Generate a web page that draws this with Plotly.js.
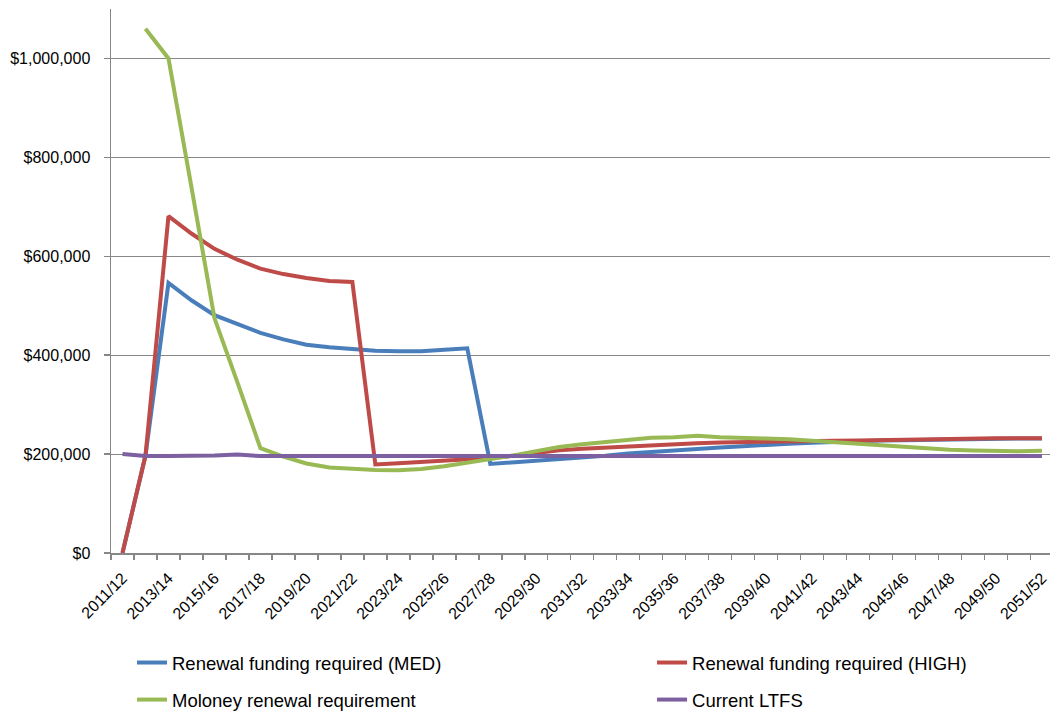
<!DOCTYPE html>
<html>
<head>
<meta charset="utf-8">
<script src="https://cdn.plot.ly/plotly-3.0.1.min.js"></script>
<style>
  html, body { margin: 0; padding: 0; background: #ffffff; }
  #chart { width: 1050px; height: 713px; }
</style>
</head>
<body>
<div id="chart"></div>
<script>
// Financial years on the horizontal axis
const years = [
  "2011/12", "2012/13", "2013/14", "2014/15", "2015/16", "2016/17", "2017/18",
  "2018/19", "2019/20", "2020/21", "2021/22", "2022/23", "2023/24", "2024/25",
  "2025/26", "2026/27", "2027/28", "2028/29", "2029/30", "2030/31", "2031/32",
  "2032/33", "2033/34", "2034/35", "2035/36", "2036/37", "2037/38", "2038/39",
  "2039/40", "2040/41", "2041/42", "2042/43", "2043/44", "2044/45", "2045/46",
  "2046/47", "2047/48", "2048/49", "2049/50", "2050/51", "2051/52"
];

// Renewal funding required (MED)
const renewalMed = [
  0, 197000, 546000, 511000, 481000, 463000, 445000, 432000, 421000, 416000,
  412000, 409000, 408000, 408000, 411000, 414000, 180000, 183000, 186000, 188500,
  192500, 196500, 201000, 204500, 207500, 210500, 213500, 216000, 219000, 221000,
  223000, 225000, 226000, 227500, 228000, 229000, 229500, 230500, 231000, 231500,
  231500
];

// Renewal funding required (HIGH)
const renewalHigh = [
  0, 197000, 681000, 646000, 615000, 593000, 575000, 564000, 556000, 550000,
  548000, 179000, 181500, 184000, 186500, 189000, 192000, 196500, 202500, 207500,
  211000, 213500, 216000, 217500, 219500, 222000, 223500, 224500, 225000, 225500,
  226000, 227000, 227500, 228500, 229000, 229500, 230500, 231500, 232000, 232000,
  232000
];

// Moloney renewal requirement (no figure for the first year)
const moloney = [
  null, 1060000, 1000000, 740000, 475000, 345000, 212000, 195000, 181000, 173000,
  170000, 168000, 167500, 170000, 175500, 182000, 190000, 197000, 206000, 214500,
  220000, 225000, 230000, 233000, 234000, 237000, 234000, 233500, 231500, 230000,
  227000, 223000, 219500, 217000, 214000, 211500, 209000, 207500, 206500, 205500,
  207000
];

// Current LTFS
const currentLtfs = [
  200000, 196000, 196000, 196000, 197000, 199000, 196000, 196000, 196000, 196000,
  196000, 196000, 196000, 196000, 196000, 196000, 196000, 196000, 196000, 196000,
  196000, 196000, 196000, 196000, 196000, 196000, 196000, 196000, 196000, 196000,
  196000, 196000, 196000, 196000, 196000, 196000, 196000, 196000, 196000, 196000,
  196000
];

const seriesNames = [
  "Renewal funding required (MED)",
  "Renewal funding required (HIGH)",
  "Moloney renewal requirement",
  "Current LTFS"
];
const seriesColors = ["#4a7ebb", "#be4b48", "#98b954", "#7d60a0"];
const seriesValues = [renewalMed, renewalHigh, moloney, currentLtfs];
const seriesLegend = ["legend", "legend2", "legend", "legend2"];

// Position of each year along the axis
const yearIndex = years.map((_, i) => i);

const traces = seriesValues.map((vals, k) => ({
  type: "scatter",
  mode: "lines",
  name: seriesNames[k],
  x: yearIndex,
  y: vals,
  line: { color: seriesColors[k], width: 4 },
  legend: seriesLegend[k],
  legendgroup: "g" + k,
  connectgaps: false,
  hoverinfo: "skip"
}));

// Label every second year
const labelIdx = yearIndex.filter(i => i % 2 === 0);
const labelText = labelIdx.map(i => years[i]);

const axisGrey = "#878787";
const baseFont = { family: "Liberation Sans, Arial, sans-serif", size: 16, color: "#000000" };
const legendFont = { family: "Liberation Sans, Arial, sans-serif", size: 18.5, color: "#000000" };

const legendTop = 1 - 644 / 713;

const layout = {
  width: 1050,
  height: 713,
  margin: { l: 111, r: 0, t: 9, b: 160, autoexpand: false },
  paper_bgcolor: "#ffffff",
  plot_bgcolor: "#ffffff",
  font: baseFont,
  showlegend: true,
  xaxis: {
    type: "linear",
    range: [-0.5, 40.35],
    tickmode: "array",
    tickvals: labelIdx,
    ticktext: labelText,
    tickangle: -45,
    ticks: "",
    ticklabelstandoff: 8,
    ticklabeloverflow: "allow",
    showgrid: false,
    zeroline: false,
    showline: true,
    linecolor: axisGrey,
    linewidth: 1.5,
    tickfont: baseFont,
    automargin: false,
    minor: {
      tickmode: "linear",
      tick0: -0.5,
      dtick: 1,
      ticks: "outside",
      ticklen: 5,
      tickcolor: axisGrey,
      tickwidth: 1.5,
      showgrid: false
    },
    fixedrange: true
  },
  yaxis: {
    range: [0, 1100000],
    tickmode: "linear",
    tick0: 0,
    dtick: 200000,
    tickprefix: "$",
    tickformat: ",d",
    ticks: "outside",
    ticklen: 6,
    tickcolor: axisGrey,
    tickwidth: 1.5,
    ticklabelstandoff: 10,
    showgrid: true,
    gridcolor: axisGrey,
    gridwidth: 1,
    zeroline: false,
    showline: true,
    linecolor: axisGrey,
    linewidth: 1.5,
    tickfont: baseFont,
    automargin: false,
    fixedrange: true
  },
  legend: {
    xref: "container", yref: "container",
    x: 0.1257, y: legendTop,
    xanchor: "left", yanchor: "top",
    orientation: "v",
    traceorder: "grouped",
    tracegroupgap: 10,
    font: legendFont,
    bgcolor: "rgba(0,0,0,0)",
    itemwidth: 30
  },
  legend2: {
    xref: "container", yref: "container",
    x: 0.621, y: legendTop,
    xanchor: "left", yanchor: "top",
    orientation: "v",
    traceorder: "grouped",
    tracegroupgap: 10,
    font: legendFont,
    bgcolor: "rgba(0,0,0,0)",
    itemwidth: 30
  }
};

Plotly.newPlot("chart", traces, layout, { staticPlot: true, displayModeBar: false });
</script>
</body>
</html>
